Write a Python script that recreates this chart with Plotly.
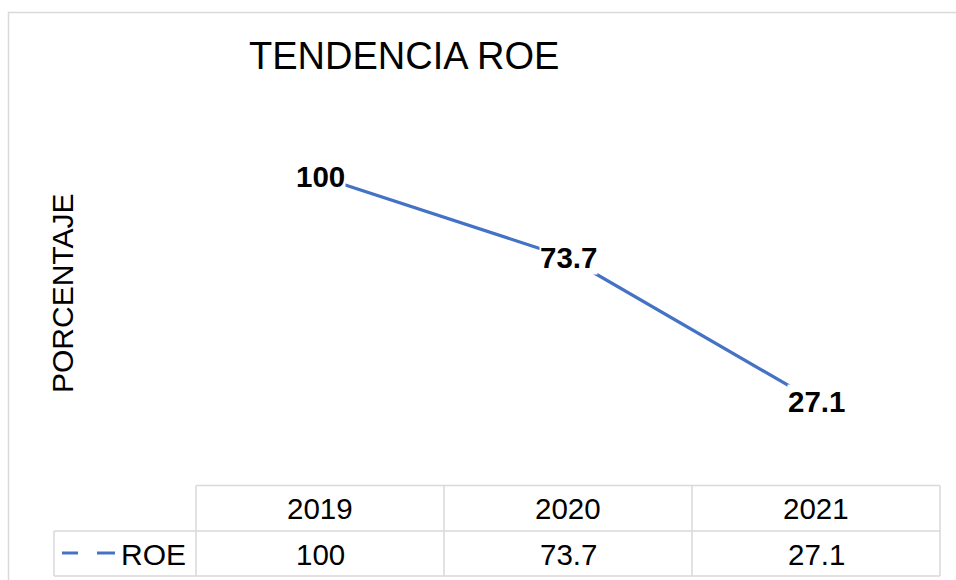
import plotly.graph_objects as go

# ---- data ----
years = ["2019", "2020", "2021"]
roe = [100, 73.7, 27.1]
roe_labels = ["100", "73.7", "27.1"]
series_name = "ROE"
title_text = "TENDENCIA ROE"
y_title = "PORCENTAJE"

W, H = 956, 580
ML, MR, MT, MB = 196, 16, 115, 95
PW = W - ML - MR
PH = H - MT - MB

def px_x(px):
    return (px - ML) / PW

def px_y(py):
    return (H - MB - py) / PH

FONT = "Arial, Liberation Sans, sans-serif"
BLUE = "#4472C4"
GRID = "#d9d9d9"

fig = go.Figure()
fig.add_trace(go.Scatter(x=years, y=roe, mode="lines",
                         line=dict(color=BLUE, width=3.2), showlegend=False,
                         hoverinfo="skip"))

annotations = []
# data labels with white background (category index positions)
for i, (v, lab) in enumerate(zip(roe, roe_labels)):
    annotations.append(dict(x=i, y=v, xref="x", yref="y", text=f"<b>{lab}</b>",
                            showarrow=False, bgcolor="white", borderpad=0,
                            font=dict(family=FONT, size=29.5, color="black"),
                            xanchor="center", yanchor="middle"))

# title
annotations.append(dict(x=px_x(404), y=px_y(56), xref="paper", yref="paper",
                        text=title_text, showarrow=False,
                        font=dict(family=FONT, size=38, color="black"),
                        xanchor="center", yanchor="middle"))
# y-axis title
annotations.append(dict(x=px_x(62), y=px_y(294), xref="paper", yref="paper",
                        text=y_title, showarrow=False, textangle=-90,
                        font=dict(family=FONT, size=30, color="black"),
                        xanchor="center", yanchor="middle"))

n = len(years)
def cat_paper(i):
    # paper x of category position i on range [-0.5, n-0.5]
    return (i + 0.5) / n

row1_top, row1_bot, row2_bot = 485.5, 531, 576
label_left = 54

# table text
for i, (yr, lab) in enumerate(zip(years, roe_labels)):
    annotations.append(dict(x=i, y=px_y(508), xref="x", yref="paper", text=yr,
                            showarrow=False, font=dict(family=FONT, size=29.5, color="black"),
                            xanchor="center", yanchor="middle"))
    annotations.append(dict(x=i, y=px_y(554), xref="x", yref="paper", text=lab,
                            showarrow=False, font=dict(family=FONT, size=29.5, color="black"),
                            xanchor="center", yanchor="middle"))
annotations.append(dict(x=px_x(153), y=px_y(554), xref="paper", yref="paper",
                        text=series_name, showarrow=False,
                        font=dict(family=FONT, size=30, color="black"),
                        xanchor="center", yanchor="middle"))

shapes = []
# chart border
shapes.append(dict(type="rect", xref="paper", yref="paper",
                   x0=px_x(8.5), x1=px_x(980), y0=px_y(600), y1=px_y(12.5),
                   line=dict(color=GRID, width=1.5), fillcolor="rgba(0,0,0,0)", layer="below"))
line_style = dict(color=GRID, width=1.5)
# horizontal table lines
shapes.append(dict(type="line", xref="paper", yref="paper", x0=cat_paper(-0.5), x1=cat_paper(n - 0.5),
                   y0=px_y(row1_top), y1=px_y(row1_top), line=line_style))
for yy in (row1_bot, row2_bot):
    shapes.append(dict(type="line", xref="paper", yref="paper", x0=px_x(label_left), x1=cat_paper(n - 0.5),
                       y0=px_y(yy), y1=px_y(yy), line=line_style))
# vertical table lines
for i in range(n + 1):
    xp = cat_paper(i - 0.5)
    shapes.append(dict(type="line", xref="paper", yref="paper", x0=xp, x1=xp,
                       y0=px_y(row1_top), y1=px_y(row2_bot), line=line_style))
shapes.append(dict(type="line", xref="paper", yref="paper", x0=px_x(label_left), x1=px_x(label_left),
                   y0=px_y(row1_bot), y1=px_y(row2_bot), line=line_style))
# legend key (dashed)
for a, b in ((62, 78), (97, 115)):
    shapes.append(dict(type="line", xref="paper", yref="paper", x0=px_x(a), x1=px_x(b),
                       y0=px_y(553), y1=px_y(553), line=dict(color=BLUE, width=3)))

fig.update_layout(
    width=W, height=H,
    margin=dict(l=ML, r=MR, t=MT, b=MB, pad=0),
    paper_bgcolor="white", plot_bgcolor="white",
    xaxis=dict(type="category", range=[-0.5, n - 0.5], showgrid=False, zeroline=False,
               showline=False, showticklabels=False, ticks=""),
    yaxis=dict(range=[0, 120], showgrid=False, zeroline=False, showline=False,
               showticklabels=False, ticks=""),
    annotations=annotations, shapes=shapes, showlegend=False,
)

fig.write_html("out.html", config={"displayModeBar": False},
               post_script="document.body.style.margin='0';document.body.style.overflow='hidden';")
